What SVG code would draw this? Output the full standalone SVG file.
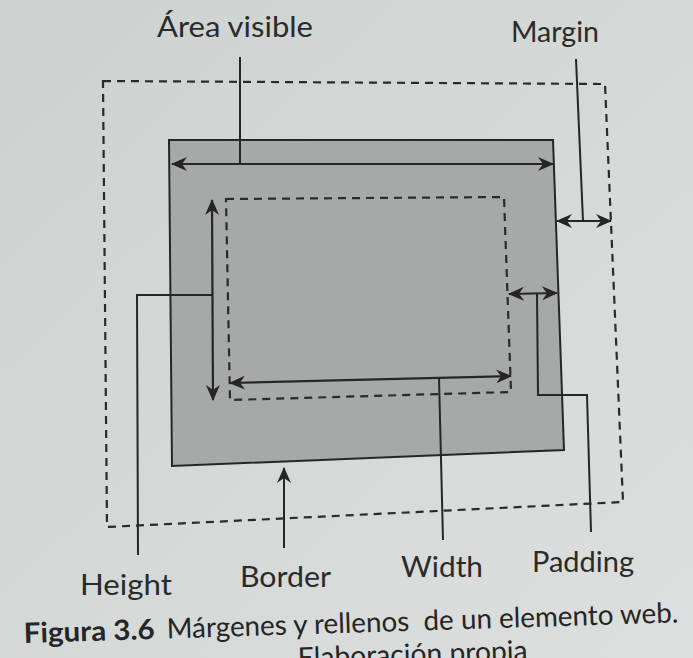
<svg xmlns="http://www.w3.org/2000/svg" width="693" height="658" viewBox="0 0 693 658">
  <defs>
    <linearGradient id="paper" x1="0" y1="0" x2="1" y2="1">
      <stop offset="0" stop-color="#cdd2d0"/>
      <stop offset="1" stop-color="#dcdfdd"/>
    </linearGradient>
    <marker id="ah" viewBox="0 0 16 14" markerUnits="userSpaceOnUse" markerWidth="16" markerHeight="14" refX="15" refY="7" orient="auto-start-reverse">
      <path d="M0,0 L16,7 L0,14 L5,7 z" fill="#252525"/>
    </marker>
    <style>
      .lbl { font-family: Lato, "Open Sans", "Liberation Sans", sans-serif; font-size: 29px; fill: #2a2a2a; }
      .cap { font-family: Lato, "Open Sans", "Liberation Sans", sans-serif; font-size: 28px; fill: #252525; }
      .bold { font-weight: bold; }
      .dash { fill: none; stroke: #2a2a2a; stroke-width: 2.2; stroke-dasharray: 8 6; }
      .line { fill: none; stroke: #262626; stroke-width: 2; }
      .arrow { fill: none; stroke: #262626; stroke-width: 2.2; marker-start: url(#ah); marker-end: url(#ah); }
    </style>
  </defs>

  <rect x="0" y="0" width="693" height="658" fill="url(#paper)"/>

  <g id="margin-box">
    <path class="dash" d="M103,81 L605,84 L623,502 L107,527 Z"/>
  </g>

  <g id="border-box">
    <path d="M169,140 L553,140 L564,450 L172,466 Z" fill="#a7a9a8" stroke="#262626" stroke-width="2"/>
  </g>

  <g id="content-box">
    <path class="dash" d="M226,199 L504,197 L511,392 L230,400 Z"/>
  </g>

  <g id="connectors">
    <!-- Área visible -->
    <line class="line" x1="240" y1="57" x2="240" y2="164"/>
    <line class="arrow" x1="172" y1="164" x2="553" y2="164"/>
    <!-- Margin -->
    <line class="line" x1="576" y1="59" x2="583" y2="221"/>
    <line class="arrow" x1="557" y1="221" x2="611" y2="221"/>
    <!-- Height -->
    <line class="arrow" x1="212" y1="200" x2="213" y2="400"/>
    <polyline class="line" points="212,295 137,295 138,555"/>
    <!-- Width -->
    <line class="arrow" x1="230" y1="383" x2="511" y2="376"/>
    <line class="line" x1="439" y1="378" x2="443" y2="540"/>
    <!-- Padding -->
    <line class="arrow" x1="509" y1="294" x2="557" y2="293"/>
    <polyline class="line" points="537,294 538,395 587,395 591,532"/>
    <!-- Border -->
    <line class="line" x1="284" y1="548" x2="284" y2="468" marker-end="url(#ah)"/>
  </g>

  <g id="labels">
    <text class="lbl" x="157" y="37" textLength="156" lengthAdjust="spacingAndGlyphs">Área visible</text>
    <text class="lbl" x="511" y="42" textLength="88" lengthAdjust="spacingAndGlyphs">Margin</text>
    <text class="lbl" x="80" y="595" textLength="92" lengthAdjust="spacingAndGlyphs">Height</text>
    <text class="lbl" x="240" y="587" textLength="91" lengthAdjust="spacingAndGlyphs">Border</text>
    <text class="lbl" x="401" y="577" textLength="82" lengthAdjust="spacingAndGlyphs">Width</text>
    <text class="lbl" x="532" y="572" textLength="102" lengthAdjust="spacingAndGlyphs">Padding</text>
  </g>

  <g id="caption" transform="rotate(-1.8 24 643)">
    <text class="cap bold" x="24" y="643" textLength="131" lengthAdjust="spacingAndGlyphs">Figura 3.6</text>
    <text class="cap" x="167" y="643" xml:space="preserve" textLength="512" lengthAdjust="spacingAndGlyphs">Márgenes y rellenos  de un elemento web.</text>
    <text class="cap" x="297" y="676" textLength="230" lengthAdjust="spacingAndGlyphs">Elaboración propia</text>
  </g>
</svg>
